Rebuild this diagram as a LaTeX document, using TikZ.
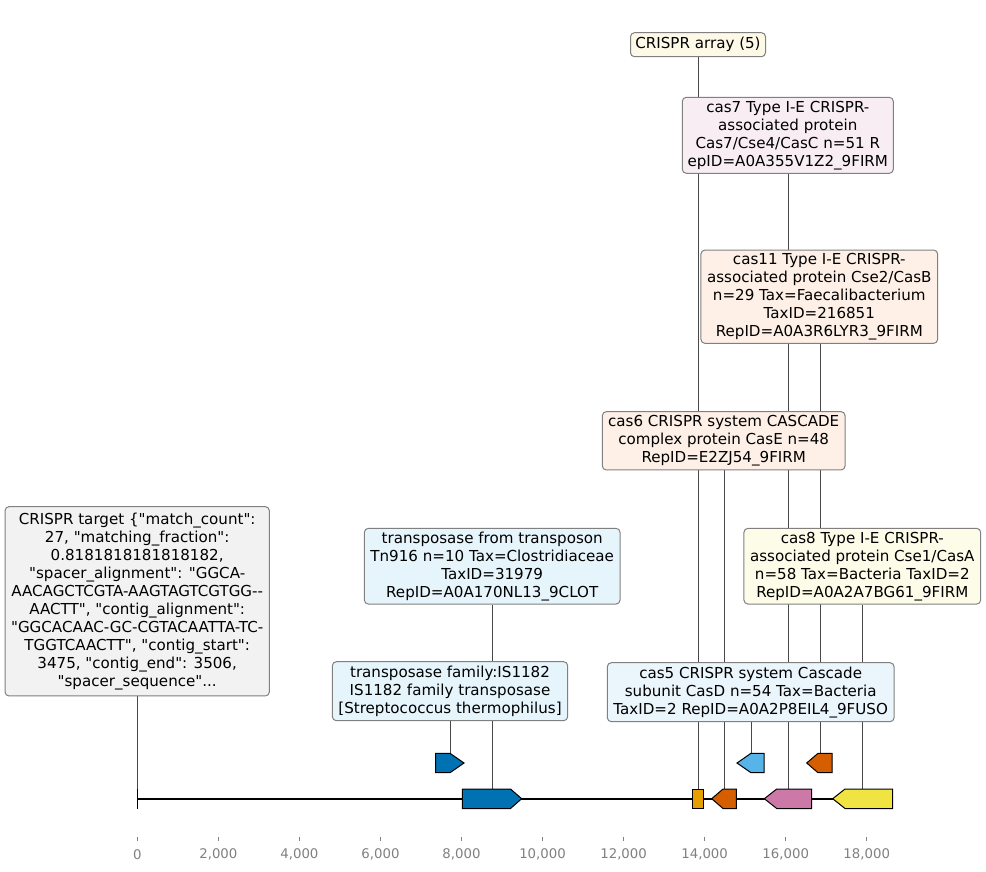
\documentclass[tikz,border=0pt]{standalone}
\usepackage{fontspec}
\setmainfont{DejaVu Sans}
\newfontfamily\dvsans{DejaVu Sans}
\pgfdeclarelayer{bg}
\pgfsetlayers{bg,main}
\definecolor{cblue}{HTML}{0072B2}
\definecolor{cyel}{HTML}{E69F00}
\definecolor{cver}{HTML}{D55E00}
\definecolor{cpink}{HTML}{CC79A7}
\definecolor{csky}{HTML}{56B4E9}
\definecolor{clem}{HTML}{F0E442}
\definecolor{boxgray}{HTML}{808080}
\definecolor{linegray}{HTML}{484848}
\definecolor{tickgray}{HTML}{808080}
\definecolor{tgtfill}{HTML}{F2F2F2}
\definecolor{fArrC}{HTML}{FEF8E7}
\definecolor{fCas7C}{HTML}{F8EDF3}
\definecolor{fOrC}{HTML}{FEF0E6}
\definecolor{fBlueC}{HTML}{E6F4FC}
\definecolor{fSkyC}{HTML}{EAF5FC}
\definecolor{fLemC}{HTML}{FDFCE8}
\tikzset{
  lbl/.style 2 args={draw=boxgray, rounded corners=4pt, line width=1pt, align=center,
    inner sep=0pt, minimum width=#1, minimum height=#2,
    font=\dvsans\fontsize{15.1}{18}\selectfont, text=black},
  conn/.style={draw=linegray, line width=0.9pt},
  feat/.style={draw=black, line width=1pt, line join=miter},
  backbone/.style={draw=black, line width=1.8pt},
  ticklbl/.style={font=\dvsans\fontsize{13.3}{15}\selectfont, text=tickgray},
}
\begin{document}
\begin{tikzpicture}[x=1pt,y=-1pt]
\useasboundingbox (0,0) rectangle (986,871);
% label boxes
\node[lbl={135pt}{24pt}, fill=fArrC] (lArr) at (698,44.7) {CRISPR array (5)};
\node[lbl={211pt}{76pt}, fill=fCas7C] (lCas7) at (787.8,135.3) {cas7 Type I-E CRISPR-\\associated protein\\Cas7/Cse4/CasC n=51 R\\epID=A0A355V1Z2\_9FIRM};
\node[lbl={236.7pt}{93.3pt}, fill=fOrC] (lCas11) at (819.3,296.7) {cas11 Type I-E CRISPR-\\associated protein Cse2/CasB\\n=29 Tax=Faecalibacterium\\TaxID=216851\\RepID=A0A3R6LYR3\_9FIRM};
\node[lbl={242.7pt}{58.3pt}, fill=fOrC] (lCas6) at (723.7,440.8) {cas6 CRISPR system CASCADE\\complex protein CasE n=48\\RepID=E2ZJ54\_9FIRM};
\node[lbl={264.3pt}{189.3pt}, fill=tgtfill] (lTgt) at (137.2,601.3) {CRISPR target \{"match\_count":\\27, "matching\_fraction":\\0.8181818181818182,\\"spacer\_alignment": "GGCA-\\AACAGCTCGTA-AAGTAGTCGTGG-{}-\\AACTT", "contig\_alignment":\\"GGCACAAC-GC-CGTACAATTA-TC-\\TGGTCAACTT", "contig\_start":\\3475, "contig\_end": 3506,\\"spacer\_sequence"...};
\node[lbl={255.7pt}{75.7pt}, fill=fBlueC] (lTn) at (492.2,566.2) {transposase from transposon\\Tn916 n=10 Tax=Clostridiaceae\\TaxID=31979\\RepID=A0A170NL13\_9CLOT};
\node[lbl={236.7pt}{75.7pt}, fill=fLemC] (lCas8) at (862.3,566.2) {cas8 Type I-E CRISPR-\\associated protein Cse1/CasA\\n=58 Tax=Bacteria TaxID=2\\RepID=A0A2A7BG61\_9FIRM};
\node[lbl={235.3pt}{59pt}, fill=fBlueC] (lIS) at (450,691.2) {transposase family:IS1182\\IS1182 family transposase\\{[Streptococcus thermophilus]}};
\node[lbl={286.7pt}{59pt}, fill=fSkyC] (lCas5) at (750.7,692.2) {cas5 CRISPR system Cascade\\subunit CasD n=54 Tax=Bacteria\\TaxID=2 RepID=A0A2P8EIL4\_9FUSO};
% feature anchor points (top centre of each feature)
\coordinate (fTgt) at (137.3,789);
\coordinate (fTn) at (492.3,789);
\coordinate (fIS) at (450.7,753.3);
\coordinate (fArr) at (698.3,789);
\coordinate (fCas6) at (724.3,789);
\coordinate (fCas5) at (751,753.3);
\coordinate (fCas7) at (788.3,789);
\coordinate (fCas11) at (820.7,753.3);
\coordinate (fCas8) at (862.3,789);
\coordinate (bbL) at (137.3,798.7);
\coordinate (bbR) at (892.7,798.7);
% connectors behind boxes
\begin{pgfonlayer}{bg}
\draw[conn] (fTgt) -- (fTgt |- lTgt.south);
\draw[conn] (fTn) -- (fTn |- lTn.south);
\draw[conn] (fIS) -- (fIS |- lIS.south);
\draw[conn] (fArr) -- (fArr |- lArr.south);
\draw[conn] (fCas6) -- (fCas6 |- lCas6.south);
\draw[conn] (fCas5) -- (fCas5 |- lCas5.south);
\draw[conn] (fCas7) -- (fCas7 |- lCas7.south);
\draw[conn] (fCas11) -- (fCas11 |- lCas11.south);
\draw[conn] (fCas8) -- (fCas8 |- lCas8.south);
\end{pgfonlayer}
% backbone
\draw[backbone] (bbL) -- (bbR);
\draw[black, line width=1pt] (137.3,789) -- (137.3,808.5);
% level 0 features
\draw[feat, fill=cblue] (462.3,789) -- (510.5,789) -- (521.7,798.7) -- (510.5,808.5) -- (462.3,808.5) -- cycle;
\draw[feat, fill=cyel] (692.7,789) rectangle (703.7,808.5);
\draw[feat, fill=cver] (711.7,798.7) -- (723,789) -- (736.3,789) -- (736.3,808.5) -- (723,808.5) -- cycle;
\draw[feat, fill=cpink] (764.3,798.7) -- (776.7,789) -- (811.7,789) -- (811.7,808.5) -- (776.7,808.5) -- cycle;
\draw[feat, fill=clem] (832.7,798.7) -- (845,789) -- (892.7,789) -- (892.7,808.5) -- (845,808.5) -- cycle;
% level 1 features
\draw[feat, fill=cblue] (435.7,753.3) -- (450,753.3) -- (464,763) -- (450,772.7) -- (435.7,772.7) -- cycle;
\draw[feat, fill=csky] (737,763) -- (751,753.3) -- (764,753.3) -- (764,772.7) -- (751,772.7) -- cycle;
\draw[feat, fill=cver] (806.7,763) -- (818,753.3) -- (832,753.3) -- (832,772.7) -- (818,772.7) -- cycle;
% axis
\foreach \i/\t in {0/0,1/{2,000},2/{4,000},3/{6,000},4/{8,000},5/{10,000},6/{12,000},7/{14,000},8/{16,000},9/{18,000}}{
  \draw[tickgray, line width=0.8pt] (137.3+81.05*\i,837.3) -- (137.3+81.05*\i,841);
  \node[ticklbl] at (137.3+81.05*\i,854.3) {\t};
}
\end{tikzpicture}
\end{document}
